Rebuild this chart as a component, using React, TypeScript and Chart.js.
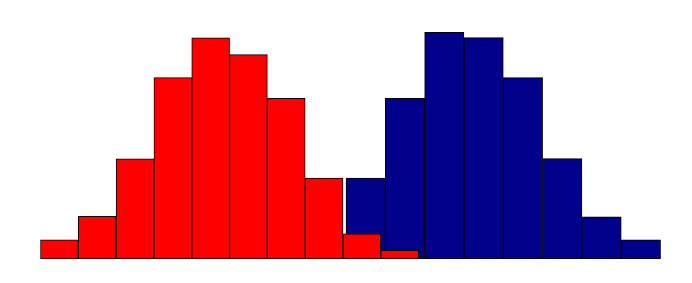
import React, { useEffect, useRef } from "react";
import { Chart, registerables } from "chart.js";

Chart.register(...registerables);

// Bin centres (arbitrary value units) and heights
const redBinCenters = [0.5, 1.5, 2.5, 3.5, 4.5, 5.5, 6.5, 7.5, 8.5, 9.5];
const redCounts = [8.4, 18.8, 44.1, 79.9, 97.4, 90.0, 70.8, 35.6, 11.1, 3.8];
const blueBinCenters = [8.6, 9.64, 10.68, 11.72, 12.76, 13.8, 14.84, 15.88];
const blueCounts = [35.6, 70.8, 100, 97.5, 79.9, 44.2, 18.6, 8.4];
const xRange = [-0.86, 17.02];
const yRange = [0, 100];

export default function App() {
  const ref = useRef<HTMLCanvasElement | null>(null);
  useEffect(() => {
    if (!ref.current) return;
    const noTicks = (axis: any) => {
      axis.ticks = [];
    };
    const chart = new Chart(ref.current, {
      type: "bar",
      data: {
        datasets: [
          {
            label: "red",
            data: redBinCenters.map((x, i) => ({ x, y: redCounts[i] })),
            backgroundColor: "#ff0000",
            borderColor: "#000000",
            borderWidth: 1,
            borderSkipped: false,
            xAxisID: "x",
            barPercentage: 1,
            categoryPercentage: 1,
            grouped: false,
          },
          {
            label: "blue",
            data: blueBinCenters.map((x, i) => ({ x, y: blueCounts[i] })),
            backgroundColor: "#00008b",
            borderColor: "#000000",
            borderWidth: 1,
            borderSkipped: false,
            xAxisID: "x2",
            barPercentage: 1,
            categoryPercentage: 1,
            grouped: false,
          },
        ],
      },
      options: {
        animation: false,
        responsive: false,
        maintainAspectRatio: false,
        layout: { padding: { top: 24, bottom: 16, left: 0, right: 0 } },
        plugins: { legend: { display: false }, tooltip: { enabled: false } },
        scales: {
          x: {
            type: "linear",
            min: xRange[0],
            max: xRange[1],
            display: false,
            afterBuildTicks: noTicks,
          },
          x2: {
            type: "linear",
            min: xRange[0],
            max: xRange[1],
            display: false,
            afterBuildTicks: noTicks,
          },
          y: {
            type: "linear",
            min: yRange[0],
            max: yRange[1],
            display: false,
          },
        },
      },
    });
    return () => chart.destroy();
  }, []);
  return (
    <div style={{ width: 676, height: 267 }}>
      <canvas ref={ref} width={676} height={267} style={{ display: "block" }} />
    </div>
  );
}
